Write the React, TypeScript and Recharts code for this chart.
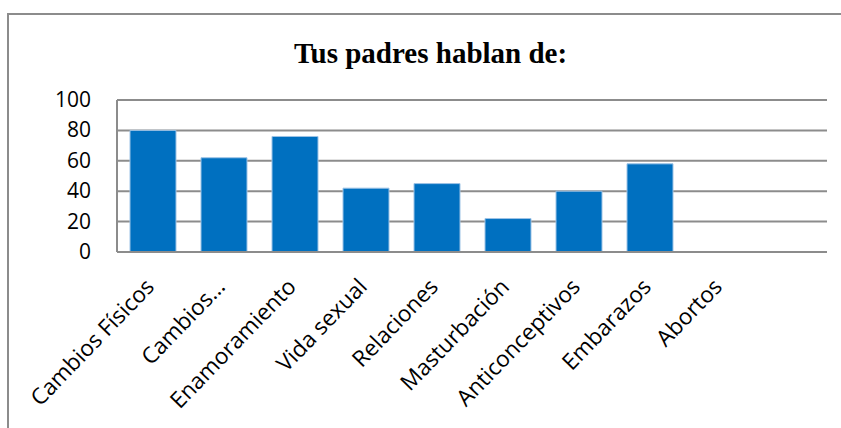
import { BarChart, Bar, XAxis, YAxis, CartesianGrid } from 'recharts';

const categories = [
  'Cambios Físicos',
  'Cambios…',
  'Enamoramiento',
  'Vida sexual',
  'Relaciones',
  'Masturbación',
  'Anticonceptivos',
  'Embarazos',
  'Abortos',
];
const values = [80, 62, 76, 42, 45, 22, 40, 58, 0];
const yTicks = [0, 20, 40, 60, 80, 100];

const data = categories.map((name, i) => ({ name, value: values[i] }));

const FONT = '"Open Sans", "Noto Sans", sans-serif';

function YTick({ x, y, payload }: any) {
  return (
    <text x={x - 18} y={y} dy={7} textAnchor="end" fontSize={21} fontFamily={FONT} fill="#000">
      {payload.value}
    </text>
  );
}

function XTick({ x, y, payload }: any) {
  return (
    <g transform={`translate(${x + 3},${y + 28})`}>
      <text x={0} y={0} textAnchor="end" transform="rotate(-46)" fontSize={22.5} fontFamily={FONT} fill="#000">
        {payload.value}
      </text>
    </g>
  );
}

export default function App() {
  return (
    <div style={{ position: 'absolute', left: 0, top: 0, width: 841, height: 428, overflow: 'hidden', background: '#fff' }}>
      {/* outer chart frame, runs off the right and bottom edges */}
      <div style={{ position: 'absolute', left: 7, top: 13, width: 900, height: 500, border: '2px solid #8c8c8c' }} />
      <div
        style={{
          position: 'absolute',
          left: 0,
          width: 861,
          top: 36,
          textAlign: 'center',
          fontFamily: '"Liberation Serif", "Times New Roman", serif',
          fontWeight: 'bold',
          fontSize: 29,
          lineHeight: '34px',
        }}
      >
        Tus padres hablan de:
      </div>
      <div style={{ position: 'absolute', left: 0, top: 0 }}>
        <BarChart width={841} height={428} data={data} margin={{ top: 100, right: 14, bottom: 0, left: 57 }} barSize={46}>
          <CartesianGrid vertical={false} stroke="#8c8c8c" strokeWidth={2} />
          <XAxis
            dataKey="name"
            interval={0}
            height={176}
            padding={{ left: 0, right: 71 }}
            axisLine={{ stroke: '#8c8c8c', strokeWidth: 2 }}
            tickLine={false}
            tick={<XTick />}
          />
          <YAxis
            width={60}
            domain={[0, 100]}
            ticks={yTicks}
            interval={0}
            axisLine={{ stroke: '#8c8c8c', strokeWidth: 2 }}
            tickLine={false}
            tick={<YTick />}
          />
          <Bar dataKey="value" fill="#0070c0" stroke="#9dc3e6" strokeWidth={1} isAnimationActive={false} />
        </BarChart>
      </div>
    </div>
  );
}
